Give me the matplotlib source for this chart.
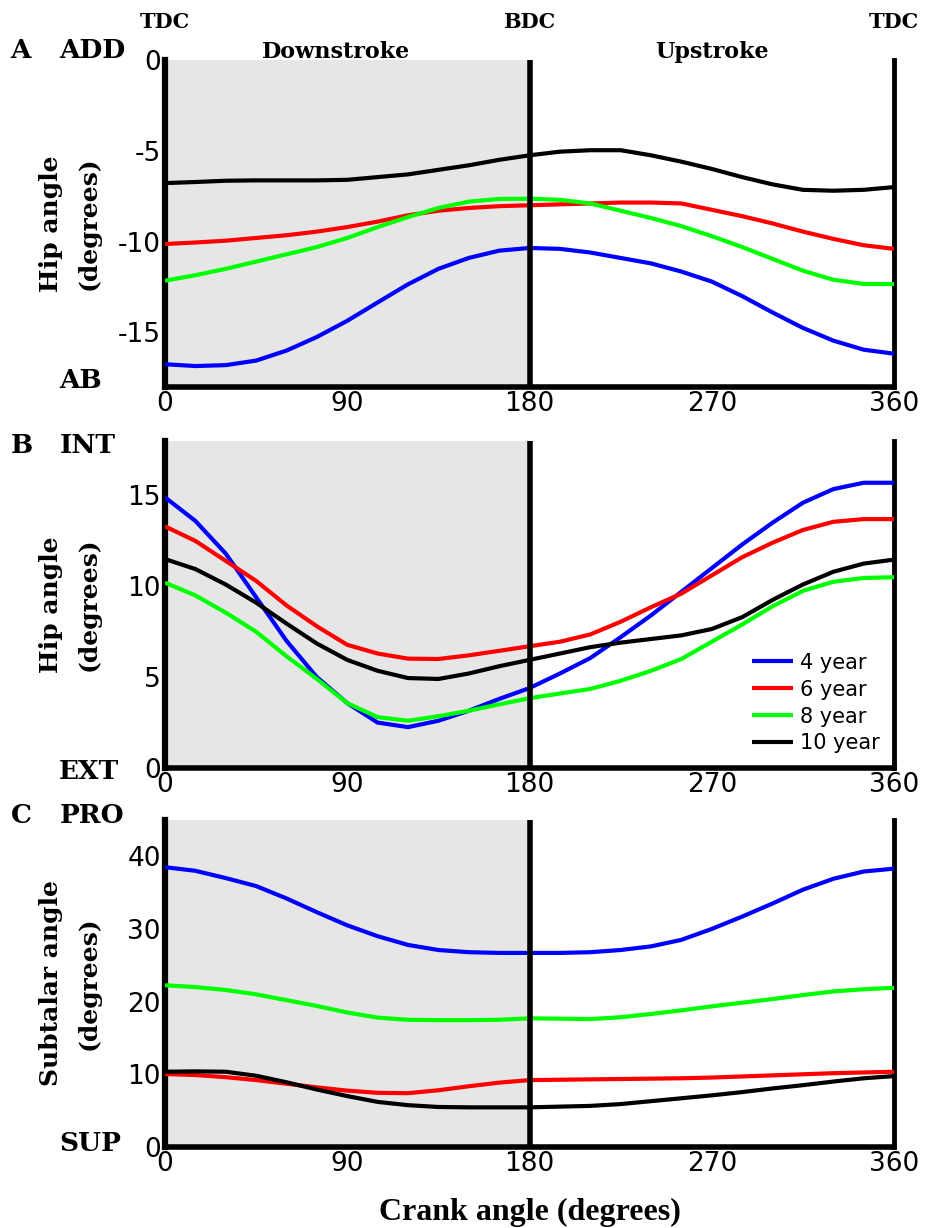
import numpy as np
import matplotlib.pyplot as plt

plt.rcParams['axes.unicode_minus'] = False

# crank angle samples (degrees), every 15
crank = list(range(0, 361, 15))

# A: hip ab/adduction (degrees)
hip_add_4 = [-16.75, -16.85, -16.8, -16.55, -16.0, -15.25, -14.36, -13.35, -12.35, -11.5,
             -10.9, -10.5, -10.35, -10.4, -10.6, -10.9, -11.2, -11.65, -12.2, -13.0,
             -13.9, -14.75, -15.45, -15.95, -16.17]
hip_add_6 = [-10.13, -10.05, -9.95, -9.8, -9.65, -9.45, -9.2, -8.9, -8.55, -8.3,
             -8.15, -8.05, -8.0, -7.95, -7.9, -7.85, -7.85, -7.9, -8.25, -8.6,
             -9.0, -9.45, -9.85, -10.2, -10.4]
hip_add_8 = [-12.15, -11.85, -11.5, -11.1, -10.7, -10.3, -9.8, -9.2, -8.65, -8.15,
             -7.8, -7.65, -7.64, -7.7, -7.9, -8.3, -8.7, -9.15, -9.7, -10.3,
             -10.95, -11.6, -12.1, -12.33, -12.34]
hip_add_10 = [-6.78, -6.72, -6.65, -6.63, -6.63, -6.63, -6.6, -6.45, -6.3, -6.05,
              -5.8, -5.5, -5.25, -5.05, -4.97, -4.97, -5.25, -5.6, -6.0, -6.45,
              -6.85, -7.15, -7.2, -7.15, -7.0]

# B: hip internal/external rotation (degrees)
hip_rot_4 = [14.9, 13.6, 11.8, 9.4, 7.0, 5.0, 3.57, 2.5, 2.25, 2.6, 3.15, 3.8, 4.4,
             5.2, 6.05, 7.2, 8.4, 9.7, 11.0, 12.3, 13.5, 14.6, 15.35, 15.7, 15.7]
hip_rot_6 = [13.3, 12.5, 11.4, 10.3, 8.95, 7.8, 6.78, 6.3, 6.02, 6.0, 6.2, 6.45, 6.7,
             6.95, 7.35, 8.05, 8.85, 9.6, 10.6, 11.6, 12.4, 13.1, 13.55, 13.7, 13.7]
hip_rot_8 = [10.2, 9.5, 8.55, 7.5, 6.15, 4.9, 3.57, 2.8, 2.6, 2.85, 3.15, 3.5, 3.84,
             4.1, 4.35, 4.8, 5.35, 6.0, 6.95, 7.9, 8.9, 9.75, 10.25, 10.46, 10.5]
hip_rot_10 = [11.5, 10.95, 10.1, 9.1, 7.95, 6.85, 5.95, 5.35, 4.95, 4.9, 5.2, 5.6, 5.95,
              6.3, 6.65, 6.9, 7.1, 7.3, 7.65, 8.3, 9.25, 10.1, 10.8, 11.25, 11.47]

# C: subtalar pronation/supination (degrees)
sub_4 = [38.5, 38.0, 37.0, 35.9, 34.2, 32.3, 30.5, 29.0, 27.8, 27.1, 26.8, 26.7, 26.7,
         26.7, 26.8, 27.1, 27.6, 28.5, 30.0, 31.7, 33.5, 35.4, 36.9, 37.9, 38.3]
sub_6 = [10.03, 9.9, 9.6, 9.2, 8.7, 8.2, 7.75, 7.45, 7.4, 7.8, 8.35, 8.85, 9.2,
         9.25, 9.3, 9.35, 9.4, 9.45, 9.55, 9.7, 9.85, 10.0, 10.15, 10.25, 10.35]
sub_8 = [22.25, 22.0, 21.6, 21.0, 20.2, 19.4, 18.5, 17.8, 17.5, 17.45, 17.45, 17.5, 17.7,
         17.65, 17.6, 17.85, 18.3, 18.8, 19.35, 19.85, 20.35, 20.9, 21.4, 21.7, 21.9]
sub_10 = [10.35, 10.4, 10.35, 9.8, 8.9, 7.9, 7.0, 6.2, 5.75, 5.5, 5.45, 5.45, 5.45,
          5.55, 5.65, 5.9, 6.3, 6.7, 7.1, 7.55, 8.05, 8.5, 9.0, 9.45, 9.75]

ages = ['4 year', '6 year', '8 year', '10 year']
colors = ['#0000ff', '#ff0000', '#00ff00', '#000000']
xticks = [0, 90, 180, 270, 360]

panels = [
    ([hip_add_4, hip_add_6, hip_add_8, hip_add_10], (-18, 0), [-15, -10, -5, 0],
     'Hip angle\n(degrees)', 'A', 'ADD', 'AB', 1.03, 0.02),
    ([hip_rot_4, hip_rot_6, hip_rot_8, hip_rot_10], (0, 18), [0, 5, 10, 15],
     'Hip angle\n(degrees)', 'B', 'INT', 'EXT', 0.985, -0.01),
    ([sub_4, sub_6, sub_8, sub_10], (0, 45), [0, 10, 20, 30, 40],
     'Subtalar angle\n(degrees)', 'C', 'PRO', 'SUP', 1.015, 0.01),
]

fig = plt.figure(figsize=(9.31, 12.28), dpi=100)
bottoms = [0.6849, 0.3746, 0.0660]
serif = 'DejaVu Serif'

for (series, ylim, yticks, ylab, letter, top_lab, bot_lab, ty, by), b in zip(panels, bottoms):
    ax = fig.add_axes([0.1772, b, 0.7831, 0.2663])
    ax.axvspan(0, 180, color='#e6e6e6', zorder=0)
    for s, c, name in zip(series, colors, ages):
        ax.plot(crank, s, color=c, lw=3, label=name, zorder=3, solid_capstyle='butt')
    ax.axvline(180, color='black', lw=4, zorder=4)
    ax.set_xlim(0, 360)
    ax.set_ylim(*ylim)
    ax.set_xticks(xticks)
    ax.set_yticks(yticks)
    ax.tick_params(length=0, labelsize=19, pad=3)
    ax.spines['top'].set_visible(False)
    ax.spines['left'].set_linewidth(4.5)
    ax.spines['bottom'].set_linewidth(4)
    ax.spines['right'].set_linewidth(3.5)
    ax.set_ylabel(ylab, family=serif, fontweight='bold', fontsize=18, linespacing=1.75)
    ax.yaxis.set_label_coords(-0.088, 0.5)
    # side labels
    ax.text(-0.212, ty, letter, transform=ax.transAxes, family=serif,
            fontweight='bold', fontsize=19, va='center', ha='left')
    ax.text(-0.145, ty, top_lab, transform=ax.transAxes, family=serif,
            fontweight='bold', fontsize=19, va='center', ha='left')
    ax.text(-0.145, by, bot_lab, transform=ax.transAxes, family=serif,
            fontweight='bold', fontsize=19, va='center', ha='left')
    if letter == 'A':
        for x, t in [(0, 'TDC'), (180, 'BDC'), (360, 'TDC')]:
            ax.text(x, 1.116, t, transform=ax.get_xaxis_transform(), family=serif,
                    fontweight='bold', fontsize=15, ha='center', va='center')
        ax.text(84.5, 1.024, 'Downstroke', transform=ax.get_xaxis_transform(),
                family=serif, fontweight='bold', fontsize=16, ha='center', va='center')
        ax.text(270, 1.024, 'Upstroke', transform=ax.get_xaxis_transform(),
                family=serif, fontweight='bold', fontsize=16, ha='center', va='center')
    if letter == 'B':
        ax.legend(loc='lower right', frameon=False, fontsize=15, handlelength=2.0,
                  handletextpad=0.3, labelspacing=0.33, borderaxespad=0.3)
    if letter == 'C':
        ax.set_xlabel('Crank angle (degrees)', family='Liberation Serif', fontweight='bold',
                      fontsize=23, labelpad=15)

fig.savefig('out.png', dpi=100)
